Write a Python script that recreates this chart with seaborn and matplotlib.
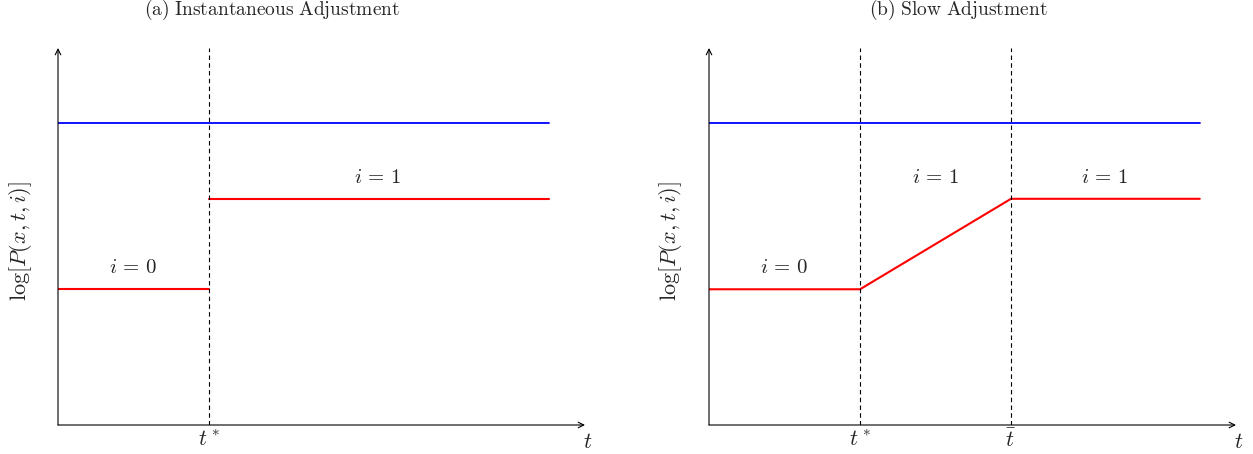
import numpy as np
import pandas as pd
import matplotlib
matplotlib.use("Agg")
import matplotlib.pyplot as plt
import seaborn as sns

sns.set_style("white")
plt.rcParams['mathtext.fontset'] = 'cm'
plt.rcParams['font.family'] = ['DejaVu Serif']

# data (t in units of t*, log P in arbitrary units)
titles = [r'$\mathrm{(a)\ Instantaneous\ Adjustment}$', r'$\mathrm{(b)\ Slow\ Adjustment}$']
ylabel = r'$\log[P(x,t,i)]$'
t_end = 3.25
t_axis = 3.49
y_top = 5.0
blue_level = 4.0
red_low = 1.8
red_high = 3.0

# panel (a)
a_blue_t = [0, t_end]
a_blue_y = [blue_level, blue_level]
a_red0_t = [0, 1]
a_red0_y = [red_low, red_low]
a_red1_t = [1, t_end]
a_red1_y = [red_high, red_high]
a_vlines = [1]
a_ticks = [1]
a_ticklabels = [r'$t^*$']
a_labels = [(0.5, r'$i\,=\,0$', red_low), (2.12, r'$i\,=\,1$', red_high)]

# panel (b)
b_blue_t = [0, t_end]
b_blue_y = [blue_level, blue_level]
b_red_t = [0, 1, 2, t_end]
b_red_y = [red_low, red_low, red_high, red_high]
b_vlines = [1, 2]
b_ticks = [1, 2]
b_ticklabels = [r'$t^*$', r'$\bar{t}$']
b_labels = [(0.5, r'$i\,=\,0$', red_low), (1.5, r'$i\,=\,1$', red_high), (2.62, r'$i\,=\,1$', red_high)]

W, H = 1253, 454
fig = plt.figure(figsize=(W / 100, H / 100), dpi=100)


def make_ax(x0px):
    ax = fig.add_axes([x0px / W, 29 / H, (t_axis * 151) / W, 377 / H])
    ax.set_xlim(0, t_axis)
    ax.set_ylim(0, y_top)
    for s in ax.spines.values():
        s.set_visible(False)
    ax.set_yticks([])
    ax.annotate('', xy=(t_axis, 0), xytext=(0, 0),
                arrowprops=dict(arrowstyle='->', color='black', lw=0.8, shrinkA=0, shrinkB=0),
                annotation_clip=False)
    ax.annotate('', xy=(0, y_top), xytext=(0, 0),
                arrowprops=dict(arrowstyle='->', color='black', lw=0.8, shrinkA=0, shrinkB=0),
                annotation_clip=False)
    ax.text(t_axis + 0.02, -0.08, r'$t$', fontsize=16, ha='center', va='top')
    return ax


def draw(ax, x0px, title, title_x, lines, vlines, ticks, ticklabels, labels):
    for t, y, c, lw in lines:
        df = pd.DataFrame({'t': t, 'y': y})
        sns.lineplot(data=df, x='t', y='y', ax=ax, color=c, linewidth=lw, sort=False)
    for v in vlines:
        ax.axvline(v, color='black', linestyle=(0, (4, 3)), linewidth=0.8)
    ax.set_xticks(ticks)
    ax.set_xticklabels(ticklabels, fontsize=16)
    ax.tick_params(axis='x', length=0, pad=3)
    for x, s, y in labels:
        ax.text(x, y + 0.16, s, fontsize=15, ha='center', va='bottom')
    ax.set_xlabel('')
    ax.set_ylabel('')
    fig.text((x0px - 38) / W, 1 - 241 / H, ylabel, fontsize=16, rotation=90,
             ha='center', va='center')
    fig.text(title_x / W, 1 - 10 / H, title, fontsize=14, ha='center', va='center')


ax1 = make_ax(58)
draw(ax1, 58, titles[0], 272,
     [(a_blue_t, a_blue_y, 'blue', 1.3), (a_red0_t, a_red0_y, 'red', 1.5), (a_red1_t, a_red1_y, 'red', 1.5)],
     a_vlines, a_ticks, a_ticklabels, a_labels)

ax2 = make_ax(709)
draw(ax2, 709, titles[1], 958,
     [(b_blue_t, b_blue_y, 'blue', 1.3), (b_red_t, b_red_y, 'red', 1.5)],
     b_vlines, b_ticks, b_ticklabels, b_labels)

fig.savefig('out.png', dpi=100)
